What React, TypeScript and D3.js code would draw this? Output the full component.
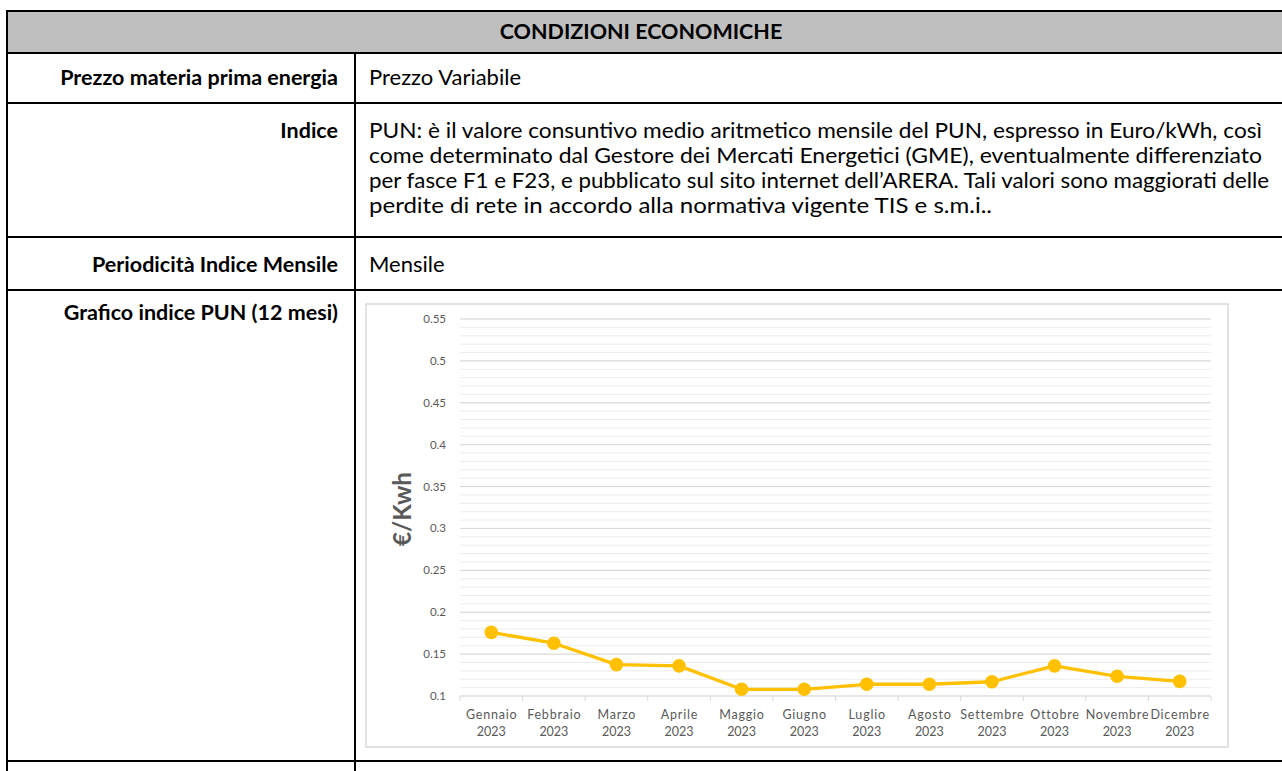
import React from "react";
import * as d3 from "d3";

const months = ["Gennaio", "Febbraio", "Marzo", "Aprile", "Maggio", "Giugno", "Luglio", "Agosto", "Settembre", "Ottobre", "Novembre", "Dicembre"];
const yearLabel = "2023";
const punValues = [0.176, 0.163, 0.1375, 0.136, 0.108, 0.108, 0.114, 0.114, 0.117, 0.136, 0.1235, 0.1175];
const yTickValues = [0.1, 0.15, 0.2, 0.25, 0.3, 0.35, 0.4, 0.45, 0.5, 0.55];
const yTitle = "€/Kwh";

const headerTitle = "CONDIZIONI ECONOMICHE";
const rowLabels = ["Prezzo materia prima energia", "Indice", "Periodicità Indice Mensile", "Grafico indice PUN (12 mesi)"];
const rowValues = ["Prezzo Variabile", "", "Mensile", ""];
const indiceLines = [
  "PUN: è il valore consuntivo medio aritmetico mensile del PUN, espresso in Euro/kWh, così",
  "come determinato dal Gestore dei Mercati Energetici (GME), eventualmente differenziato",
  "per fasce F1 e F23, e pubblicato sul sito internet dell’ARERA. Tali valori sono maggiorati delle",
  "perdite di rete in accordo alla normativa vigente TIS e s.m.i..",
];
const indiceLineWidths = [893, 893, 900, 623];

const FONT = "Lato, 'Open Sans', sans-serif";

export default function App() {
  const W = 1282;
  const H = 771;
  const tLeft = 7;
  const tTop = 11;
  const colX = 355;
  const rowLines = [11, 53, 103, 237, 290, 761];
  const labelRight = 338;
  const valueLeft = 369;
  const labelBaselines = [85, 138, 272, 320];

  const box = { x: 366, y: 304, w: 862, h: 443 };
  const plot = { left: 460, right: 1211, top: 319, bottom: 696 };

  const x = d3.scaleBand<string>().domain(months).range([plot.left, plot.right]);
  const y = d3.scaleLinear().domain([0.1, 0.55]).range([plot.bottom, plot.top]);
  const minorTicks = y.ticks(45);
  const cxOf = (i: number) => (x(months[i]) as number) + x.bandwidth() / 2;
  const line = d3
    .line<number>()
    .x((_, i) => cxOf(i))
    .y((v) => y(v));
  const boundaries = d3.range(months.length + 1).map((i) => plot.left + i * x.step());
  const fmt = (v: number) => String(+v.toFixed(2));
  const ls = 0.8;

  return (
    <svg width={W} height={H} style={{ position: "absolute", left: 0, top: 0, display: "block" }} fontFamily={FONT}>
      <rect x={0} y={0} width={W} height={H} fill="#ffffff" />
      <rect x={tLeft} y={tTop} width={W} height={rowLines[1] - tTop} fill="#bfbfbf" />
      {rowLines.map((ly, i) => (
        <line key={"h" + i} x1={tLeft - 1} x2={W + 2} y1={ly} y2={ly} stroke="#000" strokeWidth={2} />
      ))}
      <line x1={tLeft} x2={tLeft} y1={tTop - 1} y2={H + 2} stroke="#000" strokeWidth={2} />
      <line x1={colX} x2={colX} y1={rowLines[1]} y2={H + 2} stroke="#000" strokeWidth={2} />

      <text x={641} y={39} textAnchor="middle" fontWeight={700} fontSize={21.5} fill="#000">
        {headerTitle}
      </text>
      {rowLabels.map((t, i) => (
        <text key={"l" + i} x={labelRight} y={labelBaselines[i]} textAnchor="end" fontWeight={700} fontSize={21.5} fill="#000">
          {t}
        </text>
      ))}
      {rowValues.map((t, i) =>
        t ? (
          <text key={"v" + i} x={valueLeft} y={labelBaselines[i]} fontSize={22} fill="#000">
            {t}
          </text>
        ) : null
      )}
      {indiceLines.map((t, i) => (
        <text
          key={"p" + i}
          x={valueLeft}
          y={labelBaselines[1] + i * 25}
          fontSize={21.5}
          fill="#000"
          textLength={indiceLineWidths[i]}
          lengthAdjust="spacingAndGlyphs"
        >
          {t}
        </text>
      ))}

      <rect x={box.x} y={box.y} width={box.w} height={box.h} fill="#fff" stroke="#d9d9d9" strokeWidth={1.5} />
      {minorTicks.map((v, i) => (
        <line key={"m" + i} x1={plot.left} x2={plot.right} y1={y(v)} y2={y(v)} stroke="#ececec" strokeWidth={1} />
      ))}
      {yTickValues.map((v, i) => (
        <line key={"g" + i} x1={plot.left} x2={plot.right} y1={y(v)} y2={y(v)} stroke="#d9d9d9" strokeWidth={1} />
      ))}
      {boundaries.map((bx, i) => (
        <line key={"t" + i} x1={bx} x2={bx} y1={plot.bottom} y2={plot.bottom + 5} stroke="#d9d9d9" strokeWidth={1} />
      ))}
      {yTickValues.map((v, i) => (
        <text key={"yl" + i} x={446} y={y(v)} dy="0.35em" textAnchor="end" fontSize={11.5} fill="#595959">
          {fmt(v)}
        </text>
      ))}
      {months.map((m, i) => {
        const cx = cxOf(i);
        return (
          <g key={"xl" + i} fill="#595959" fontSize={12.5} textAnchor="middle">
            <text x={cx + ls / 2} y={719} letterSpacing={ls}>
              {m}
            </text>
            <text x={cx} y={736}>
              {yearLabel}
            </text>
          </g>
        );
      })}
      <text
        transform={`translate(411, 509) rotate(-90)`}
        textAnchor="middle"
        fontWeight={700}
        fontSize={25}
        fill="#595959"
        textLength={74}
        lengthAdjust="spacingAndGlyphs"
      >
        {yTitle}
      </text>
      <path d={line(punValues) || ""} fill="none" stroke="#ffc000" strokeWidth={3.3} strokeLinejoin="round" />
      {punValues.map((v, i) => (
        <circle key={"c" + i} cx={cxOf(i)} cy={y(v)} r={6.8} fill="#ffc000" />
      ))}
    </svg>
  );
}
